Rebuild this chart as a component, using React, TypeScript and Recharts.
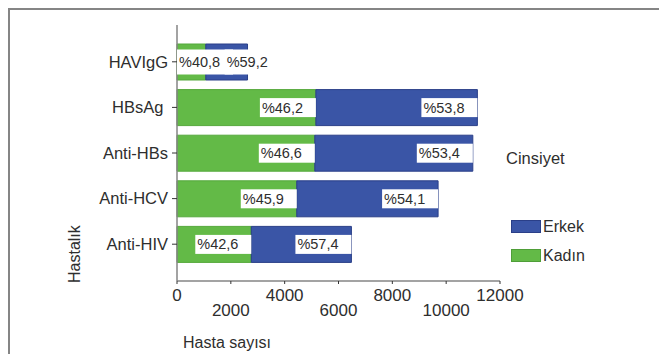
import React from 'react';
import { BarChart, Bar, XAxis, YAxis, Legend, LabelList } from 'recharts';

// Hastalık kategorileri (HBsAg etiketinde sonda bir boşluk var)
const diseases = ['HAVIgG', 'HBsAg\u00a0', 'Anti-HBs', 'Anti-HCV', 'Anti-HIV'];
const kadin = [1070, 5160, 5120, 4450, 2760];
const erkek = [1550, 6000, 5870, 5250, 3720];
const kadinPct = ['%40,8', '%46,2', '%46,6', '%45,9', '%42,6'];
const erkekPct = ['%59,2', '%53,8', '%53,4', '%54,1', '%57,4'];
const xTicks = [0, 2000, 4000, 6000, 8000, 10000, 12000];
const legendOrder = ['Erkek', 'Kadın'];

const data = diseases.map((name, i) => ({
    name,
    kadin: kadin[i],
    erkek: erkek[i],
    kadinPct: kadinPct[i],
    erkekPct: erkekPct[i],
}));

const GREEN = '#63ba47';
const BLUE = '#3a55a6';
const FONT = '"Liberation Sans", Arial, sans-serif';
const TEXT = '#2e2e2e';
const FRAME = '#858585';

const BOX_W = 56;

const pctLabel = (first: boolean) => (props: any) => {
    const vb = props.viewBox || {};
    const x = vb.x ?? props.x;
    const y = vb.y ?? props.y;
    const w = vb.width ?? props.width;
    const h = vb.height ?? props.height;
    const end = x + w;
    const small = w < BOX_W;
    let bx: number;
    if (first) bx = Math.max(x, end - BOX_W);
    else bx = small ? x + w / 2 - 2 : end - BOX_W;
    const bh = small ? 25 : 19;
    const cy = y + h / 2;
    return (
        <g>
            <rect x={bx} y={cy - bh / 2} width={BOX_W} height={bh} fill="#fff" />
            <text x={bx + 2} y={cy + 5} fontSize={14.5} fontFamily={FONT} fill={TEXT}>{props.value}</text>
        </g>
    );
};

const XTick = (props: any) => {
    const { x, y, payload, index } = props;
    const dy = index % 2 === 0 ? 15 : 30;
    return (
        <text x={x} y={y + dy} textAnchor="middle" fontSize={17} fontFamily={FONT} fill={TEXT}>{payload.value}</text>
    );
};

const YLabel = (props: any) => {
    const vb = props.viewBox || {};
    const bx = vb.x + 72;
    const by = vb.y + vb.height + 2;
    return (
        <text x={bx} y={by} transform={`rotate(-90 ${bx} ${by})`} fontSize={16} fontFamily={FONT} fill={TEXT}>Hastalık</text>
    );
};

const LegendBox = (props: any) => {
    const items = legendOrder
        .map(n => (props.payload || []).find((p: any) => p.value === n))
        .filter(Boolean);
    return (
        <div style={{ fontFamily: FONT, color: TEXT, paddingLeft: 6 }}>
            <div style={{ fontSize: 16.5, lineHeight: '24px' }}>Cinsiyet</div>
            <div style={{ marginTop: 42 }}>
                {items.map((it: any) => (
                    <div key={it.value} style={{ display: 'flex', alignItems: 'center', height: 29, marginLeft: 5 }}>
                        <span style={{ display: 'inline-block', width: 28, height: 11, background: it.color, border: `1px solid ${it.value === 'Erkek' ? '#2a3f88' : '#4f9e38'}`, marginRight: 2 }} />
                        <span style={{ fontSize: 16 }}>{it.value}</span>
                    </div>
                ))}
            </div>
        </div>
    );
};

const App: React.FC = () => {
    return (
        <div style={{ position: 'relative', width: 659, height: 346 }}>
            <BarChart width={659} height={346} data={data} layout="vertical" margin={{ top: 17, right: 27, bottom: 0, left: 0 }} barSize={36}>
                <XAxis type="number" domain={[0, 12000]} ticks={xTicks} height={73} tickSize={3} tickLine={{ stroke: '#333' }}
                    axisLine={{ stroke: FRAME, strokeWidth: 1.5 }} tick={<XTick />} interval={0}
                    label={{ value: 'Hasta sayısı', position: 'insideBottomLeft', offset: 6, fontSize: 16, fontFamily: FONT, fill: TEXT }} />
                <XAxis xAxisId="top" orientation="top" type="number" domain={[0, 12000]} height={0} tick={false} tickLine={false}
                    axisLine={{ stroke: FRAME, strokeWidth: 1.5 }} />
                <YAxis type="category" dataKey="name" width={169} padding={{ top: 14, bottom: 14 }} tickSize={5} tickMargin={4}
                    tickLine={{ stroke: '#333' }} axisLine={{ stroke: FRAME, strokeWidth: 1.5 }}
                    tick={{ fontSize: 16.5, fontFamily: FONT, fill: TEXT }} label={<YLabel />} />
                <YAxis yAxisId="right" orientation="right" type="category" dataKey="name" width={0} tick={false} tickLine={false}
                    axisLine={{ stroke: FRAME, strokeWidth: 1.5 }} />
                <Legend layout="vertical" align="right" verticalAlign="top" content={<LegendBox />}
                    wrapperStyle={{ width: 140, top: 138, left: 492 }} />
                <Bar dataKey="kadin" name="Kadın" stackId="a" fill={GREEN} stroke="#55a83c" strokeWidth={1} isAnimationActive={false}>
                    <LabelList dataKey="kadinPct" content={pctLabel(true)} />
                </Bar>
                <Bar dataKey="erkek" name="Erkek" stackId="a" fill={BLUE} stroke="#2a3f88" strokeWidth={1} isAnimationActive={false}>
                    <LabelList dataKey="erkekPct" content={pctLabel(false)} />
                </Bar>
            </BarChart>
            <div style={{ position: 'absolute', top: 0, left: 0, width: 659, height: 346, boxSizing: 'border-box', borderTop: `2px solid ${FRAME}`, borderLeft: `2px solid ${FRAME}`, pointerEvents: 'none' }} />
        </div>
    );
};

export default App;
